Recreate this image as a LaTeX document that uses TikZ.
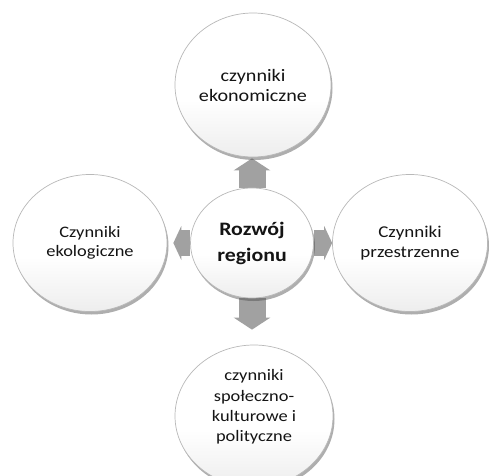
\documentclass[tikz,border=0pt]{standalone}
\usepackage{fontspec}
\setmainfont{Carlito}[FakeStretch=1.15]
\usetikzlibrary{arrows.meta,shadows,backgrounds,shapes.geometric}
\pgfdeclareverticalshading{bubshade}{100bp}{color(0bp)=(black!22); color(25bp)=(black!7); color(45bp)=(white); color(100bp)=(white)}
\begin{document}
\begin{tikzpicture}[x=1pt,y=-1pt,
  bubble/.style={ellipse, draw=black!28, line width=0.7pt, shading=bubshade,
    drop shadow={shadow xshift=1.5pt, shadow yshift=-3pt, opacity=0.45, fill=black!70},
    inner sep=0pt, align=center, text=black!92},
  txt/.style={align=center, text=black!92, inner sep=0pt},
  varrow/.style={draw=black!37, line width=27pt, -{Triangle[length=12pt,width=36pt]}},
  harrow/.style={draw=black!37, line width=26pt, -{Triangle[length=8pt,width=34pt]}}
]
\useasboundingbox (0,0) rectangle (490,476);
\node[bubble, minimum width=156pt, minimum height=144pt,
  font=\fontsize{17.5}{20}\selectfont] (t) at (253,85) {czynniki\\ekonomiczne};
\node[bubble, minimum width=154pt, minimum height=137pt,
  font=\fontsize{16}{18.5}\selectfont] (l) at (90,243) {Czynniki\\ekologiczne};
\node[bubble, minimum width=155pt, minimum height=137pt,
  font=\fontsize{16.5}{20}\selectfont] (r) at (410,243) {Czynniki\\przestrzenne};
\node[bubble, minimum width=158pt, minimum height=142pt] (b) at (254,416) {};
\node[txt, font=\fontsize{16}{20.3}\selectfont] (bt) at (254,407)
  {czynniki\\społeczno-\\kulturowe i\\polityczne};
\node[bubble, minimum width=123pt, minimum height=110pt,
  font=\bfseries\fontsize{19}{26}\selectfont] (c) at (252,243) {Rozwój\\regionu};
\begin{scope}[on background layer]
  \draw[varrow, shorten >=1pt] (c.north) -- (c.north |- t.south);
  \draw[varrow, shorten >=15pt] (c.south) -- (c.south |- b.north);
  \draw[harrow, shorten >=6pt] (c.west) -- (l.east);
  \draw[harrow] (c.east) -- (r.west);
\end{scope}
\end{tikzpicture}
\end{document}
